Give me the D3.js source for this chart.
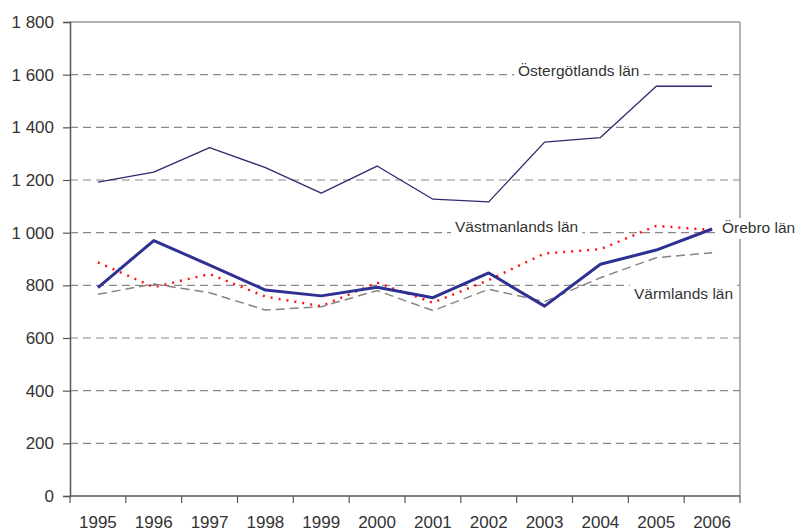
<!DOCTYPE html>
<html>
<head>
<meta charset="utf-8">
<script src="https://cdn.jsdelivr.net/npm/d3@7"></script>
<style>
  body { margin: 0; background: #fff; }
  #chart { width: 796px; height: 531px; }
  text { font-family: "Liberation Sans", Arial, sans-serif; fill: #333; }
</style>
</head>
<body>
<div id="chart"></div>
<script>
const years = ["1995", "1996", "1997", "1998", "1999", "2000", "2001", "2002", "2003", "2004", "2005", "2006"];
const yTicks = [0, 200, 400, 600, 800, 1000, 1200, 1400, 1600, 1800];

const ostergotland = [1192, 1230, 1323, 1247, 1150, 1253, 1127, 1117, 1344, 1361, 1556, 1556];
const orebro = [791, 970, 877, 782, 760, 793, 753, 847, 721, 880, 934, 1014];
const vastmanland = [887, 793, 843, 757, 721, 810, 734, 820, 921, 937, 1026, 1010];
const varmland = [766, 805, 772, 706, 719, 780, 704, 785, 738, 829, 905, 924];

const seriesNames = ["Östergötlands län", "Örebro län", "Västmanlands län", "Värmlands län"];

function renderChart(containerSelector) {
    const container = d3.select(containerSelector);
    const width = 796, height = 531;
    const margin = { top: 22, right: 56, bottom: 35, left: 70 };
    const innerW = width - margin.left - margin.right;
    const innerH = height - margin.top - margin.bottom;

    const svg = container.append("svg")
        .attr("width", width)
        .attr("height", height);
    const g = svg.append("g").attr("transform", `translate(${margin.left},${margin.top})`);

    const x = d3.scaleBand().domain(years).range([0, innerW]);
    const y = d3.scaleLinear().domain([0, 1800]).range([innerH, 0]);
    const fmt = v => d3.format(",")(v).replace(",", " ");

    // dashed gridlines
    g.selectAll(".grid")
        .data(yTicks.filter(t => t > 0 && t < 1800))
        .join("line")
        .attr("x1", 0).attr("x2", innerW)
        .attr("y1", d => y(d)).attr("y2", d => y(d))
        .attr("stroke", "#8f8787").attr("stroke-width", 1.2)
        .attr("stroke-dasharray", "8,5");

    // top and right frame
    g.append("line").attr("x1", 0).attr("x2", innerW).attr("y1", 0).attr("y2", 0)
        .attr("stroke", "#9e9696").attr("stroke-width", 1.5);
    g.append("line").attr("x1", innerW).attr("x2", innerW).attr("y1", 0).attr("y2", innerH)
        .attr("stroke", "#9e9696").attr("stroke-width", 1.5);

    // y axis
    const yAxis = g.append("g")
        .call(d3.axisLeft(y).tickValues(yTicks).tickSize(7).tickPadding(9).tickFormat(fmt));
    yAxis.select(".domain").attr("stroke", "#5a5555").attr("stroke-width", 1.5);
    yAxis.selectAll(".tick line").attr("stroke", "#5a5555").attr("stroke-width", 1.2);
    yAxis.selectAll("text").style("font-size", "17px").attr("fill", "#333");

    // x axis, ticks sit on the band boundaries
    const xAxis = g.append("g").attr("transform", `translate(0,${innerH})`);
    xAxis.append("line").attr("x1", 0).attr("x2", innerW).attr("stroke", "#5a5555").attr("stroke-width", 1.5);
    xAxis.selectAll(".xt")
        .data(years.concat(["end"]))
        .join("line")
        .attr("x1", (d, i) => i * x.bandwidth()).attr("x2", (d, i) => i * x.bandwidth())
        .attr("y1", 0).attr("y2", 7)
        .attr("stroke", "#5a5555").attr("stroke-width", 1.2);
    xAxis.selectAll(".xl")
        .data(years)
        .join("text")
        .attr("x", d => x(d) + x.bandwidth() / 2)
        .attr("y", 32)
        .attr("text-anchor", "middle")
        .style("font-size", "17px")
        .text(d => d);

    const line = d3.line()
        .x((d, i) => x(years[i]) + x.bandwidth() / 2)
        .y(d => y(d));

    const series = [
        { name: seriesNames[3], values: varmland, color: "#8c8282", w: 1.5, dash: "9,5" },
        { name: seriesNames[2], values: vastmanland, color: "#ff1010", w: 2.4, dash: "2,6" },
        { name: seriesNames[0], values: ostergotland, color: "#2b2b6e", w: 1.3, dash: null },
        { name: seriesNames[1], values: orebro, color: "#2e3192", w: 3, dash: null }
    ];

    g.selectAll(".series")
        .data(series)
        .join("path")
        .attr("d", d => line(d.values))
        .attr("fill", "none")
        .attr("stroke", d => d.color)
        .attr("stroke-width", d => d.w)
        .attr("stroke-dasharray", d => d.dash)
        .attr("stroke-linejoin", "round");

    // labels with white backing
    const labels = [
        { text: seriesNames[0], x: 518, y: 76 },
        { text: seriesNames[2], x: 455, y: 232 },
        { text: seriesNames[1], x: 722, y: 233 },
        { text: seriesNames[3], x: 634, y: 299 }
    ];
    const lg = svg.append("g");
    labels.forEach(d => {
        const t = lg.append("text")
            .attr("x", d.x).attr("y", d.y)
            .style("font-size", "15.5px")
            .text(d.text);
        const bb = t.node().getBBox();
        lg.insert("rect", "text")
            .attr("x", bb.x - 4).attr("y", bb.y - 1)
            .attr("width", bb.width + 8).attr("height", bb.height + 4)
            .attr("fill", "#fff");
    });
}

renderChart("#chart");
</script>
</body>
</html>
